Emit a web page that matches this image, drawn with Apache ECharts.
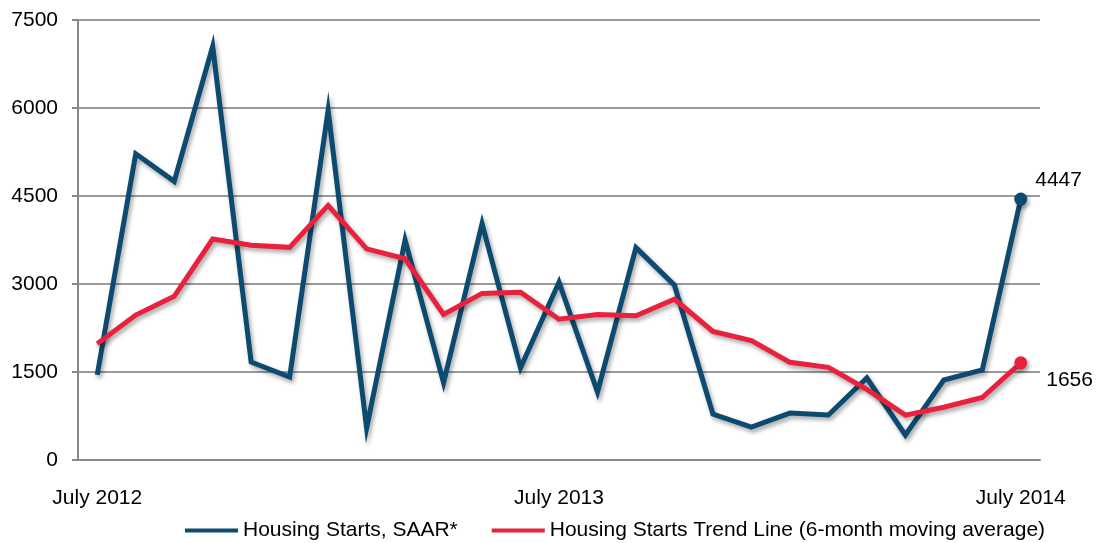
<!DOCTYPE html>
<html>
<head>
<meta charset="utf-8">
<script src="https://cdn.jsdelivr.net/npm/echarts@6/dist/echarts.min.js"></script>
<style>
  html, body { margin: 0; padding: 0; background: #fff; }
  #chart { width: 1099px; height: 543px; }
</style>
</head>
<body>
<div id="chart"></div>
<script>
// monthly, July 2012 .. July 2014
var months = ['July 2012', 'Aug 2012', 'Sep 2012', 'Oct 2012', 'Nov 2012', 'Dec 2012',
  'Jan 2013', 'Feb 2013', 'Mar 2013', 'Apr 2013', 'May 2013', 'Jun 2013',
  'July 2013', 'Aug 2013', 'Sep 2013', 'Oct 2013', 'Nov 2013', 'Dec 2013',
  'Jan 2014', 'Feb 2014', 'Mar 2014', 'Apr 2014', 'May 2014', 'Jun 2014', 'July 2014'];
var tickLabels = ['July 2012', 'July 2013', 'July 2014'];

var starts = [1450, 5220, 4750, 7050, 1670, 1415, 5960, 545, 3750, 1320, 4030, 1570,
  3030, 1160, 3620, 2980, 784, 560, 800, 767, 1398, 426, 1364, 1534, 4447];
var trend = [1980, 2470, 2790, 3767, 3660, 3625, 4340, 3600, 3430, 2480, 2840, 2860,
  2400, 2480, 2460, 2740, 2190, 2035, 1665, 1580, 1205, 765, 900, 1065, 1656];

var yTicks = { min: 0, max: 7500, step: 1500 };

var BLUE = '#0d4a70';
var RED = '#e8213d';
var FONT = '"Liberation Sans", Arial, sans-serif';

var shadow = {
  shadowColor: 'rgba(0,0,0,0.35)',
  shadowBlur: 4,
  shadowOffsetX: 2,
  shadowOffsetY: 3
};

var withEndPoint = function(values, color, labelOffset) {
  var last = values.length - 1;
  return values.map(function(v, i) {
    if (i !== last) {
      return { value: v, symbol: 'none' };
    }
    return {
      value: v,
      symbol: 'circle',
      symbolSize: 13,
      itemStyle: Object.assign({ color: color }, shadow),
      label: {
        show: true,
        position: 'right',
        distance: 5,
        offset: labelOffset,
        color: '#000',
        fontSize: 21,
        fontFamily: FONT
      }
    };
  });
};

var makeSerie = function(name, values, color, labelOffset) {
  return {
    name: name,
    type: 'line',
    symbol: 'none',
    showSymbol: true,
    silent: true,
    color: color,
    lineStyle: Object.assign({ color: color, width: 5, join: 'miter' }, shadow),
    data: withEndPoint(values, color, labelOffset)
  };
};

var option = {
  animation: false,
  backgroundColor: '#fff',
  textStyle: { fontFamily: FONT },
  grid: { left: 78, right: 59, top: 20, bottom: 83 },
  legend: {
    left: 180,
    top: 515,
    itemWidth: 53,
    itemHeight: 4,
    itemGap: 34,
    icon: 'rect',
    textStyle: { fontSize: 21, color: '#000', fontFamily: FONT },
    data: ['Housing Starts, SAAR*', 'Housing Starts Trend Line (6-month moving average)']
  },
  xAxis: {
    type: 'category',
    data: months,
    boundaryGap: true,
    axisLine: { show: true, lineStyle: { color: '#888', width: 2 } },
    axisTick: { show: false },
    axisLabel: {
      interval: 0,
      margin: 28,
      fontSize: 21,
      color: '#000',
      fontFamily: FONT,
      formatter: function(v) { return tickLabels.indexOf(v) >= 0 ? v : ''; }
    },
    splitLine: { show: false }
  },
  yAxis: {
    type: 'value',
    min: yTicks.min,
    max: yTicks.max,
    interval: yTicks.step,
    axisLine: { show: true, lineStyle: { color: '#888', width: 2 } },
    axisTick: { show: true, length: 6, lineStyle: { color: '#888', width: 2 } },
    axisLabel: {
      margin: 20,
      fontSize: 21,
      color: '#000',
      fontFamily: FONT,
      formatter: function(v) { return String(v); }
    },
    splitLine: { show: true, lineStyle: { color: '#9a9a9a', width: 2 } }
  },
  series: [
    makeSerie('Housing Starts, SAAR*', starts, BLUE, [3, -19]),
    makeSerie('Housing Starts Trend Line (6-month moving average)', trend, RED, [14, 17])
  ]
};

var myChart = echarts.init(document.getElementById('chart'));
myChart.setOption(option, true);
</script>
</body>
</html>
